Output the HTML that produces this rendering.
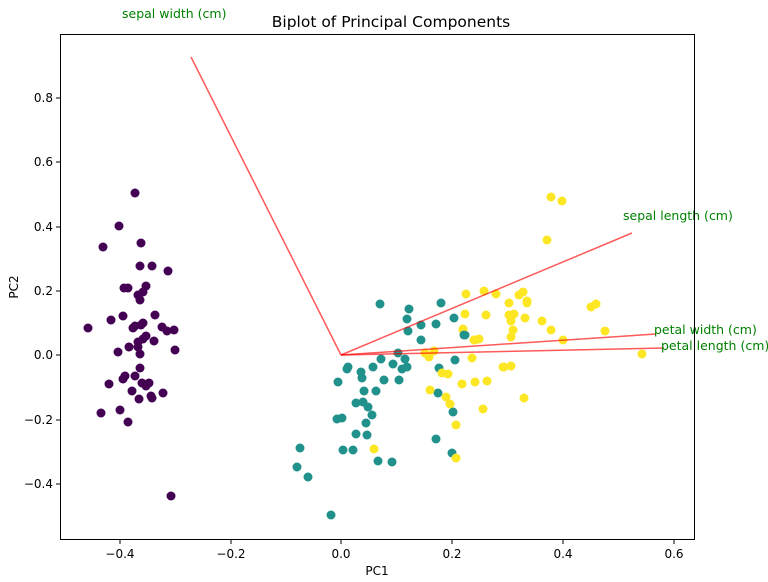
<!DOCTYPE html>
<html><head><style>body{margin:0;background:#fff}svg{display:block;font-family:"DejaVu Sans","Liberation Sans",sans-serif}</style></head><body>
<svg width="768" height="582" xmlns="http://www.w3.org/2000/svg">
<rect width="768" height="582" fill="#fff"/>
<text x="391" y="27" font-size="15.5" text-anchor="middle">Biplot of Principal Components</text>
<g id="pts">
<g fill="#440154">
<circle cx="135" cy="193" r="4.5"/><circle cx="119" cy="226" r="4.5"/><circle cx="171" cy="496" r="4.5"/>
<circle cx="103" cy="247" r="4.5"/><circle cx="141" cy="243" r="4.5"/><circle cx="140" cy="266" r="4.5"/><circle cx="152" cy="266" r="4.5"/><circle cx="168" cy="271" r="4.5"/><circle cx="124" cy="288" r="4.5"/><circle cx="128" cy="288" r="4.5"/><circle cx="146" cy="286" r="4.5"/><circle cx="143" cy="292" r="4.5"/><circle cx="138" cy="295" r="4.5"/><circle cx="140" cy="300" r="4.5"/><circle cx="88" cy="328" r="4.5"/><circle cx="111" cy="320" r="4.5"/><circle cx="123" cy="316" r="4.5"/><circle cx="155" cy="315" r="4.5"/><circle cx="133" cy="328" r="4.5"/><circle cx="135" cy="326" r="4.5"/><circle cx="141" cy="325" r="4.5"/><circle cx="143" cy="323" r="4.5"/><circle cx="162" cy="327" r="4.5"/><circle cx="167" cy="331" r="4.5"/><circle cx="174" cy="330" r="4.5"/><circle cx="146" cy="336" r="4.5"/><circle cx="143" cy="339" r="4.5"/><circle cx="138" cy="342" r="4.5"/><circle cx="138" cy="347" r="4.5"/><circle cx="154" cy="341" r="4.5"/><circle cx="129" cy="347" r="4.5"/><circle cx="118" cy="352" r="4.5"/><circle cx="140" cy="354" r="4.5"/><circle cx="175" cy="350" r="4.5"/><circle cx="140" cy="368" r="4.5"/><circle cx="125" cy="376" r="4.5"/><circle cx="123" cy="379" r="4.5"/><circle cx="135" cy="376" r="4.5"/><circle cx="109" cy="384" r="4.5"/><circle cx="142" cy="383" r="4.5"/><circle cx="146" cy="386" r="4.5"/><circle cx="149" cy="383" r="4.5"/><circle cx="132" cy="391" r="4.5"/><circle cx="139" cy="399" r="4.5"/><circle cx="151" cy="396" r="4.5"/><circle cx="152" cy="398" r="4.5"/><circle cx="163" cy="393" r="4.5"/><circle cx="120" cy="410" r="4.5"/><circle cx="101" cy="413" r="4.5"/><circle cx="128" cy="422" r="4.5"/>
</g>
<g fill="#21918c">
<circle cx="380" cy="304" r="4.5"/><circle cx="409" cy="309" r="4.5"/><circle cx="441" cy="303" r="4.5"/><circle cx="407" cy="319" r="4.5"/><circle cx="421" cy="325" r="4.5"/><circle cx="436" cy="324" r="4.5"/><circle cx="454" cy="318" r="4.5"/><circle cx="408" cy="331" r="4.5"/><circle cx="421" cy="340" r="4.5"/><circle cx="465" cy="335" r="4.5"/><circle cx="398" cy="353" r="4.5"/><circle cx="381" cy="359" r="4.5"/><circle cx="405" cy="359" r="4.5"/><circle cx="393" cy="364" r="4.5"/><circle cx="407" cy="367" r="4.5"/><circle cx="402" cy="369" r="4.5"/><circle cx="348" cy="367" r="4.5"/><circle cx="347" cy="369" r="4.5"/><circle cx="361" cy="372" r="4.5"/><circle cx="373" cy="367" r="4.5"/><circle cx="362" cy="378" r="4.5"/><circle cx="338" cy="382" r="4.5"/><circle cx="384" cy="380" r="4.5"/><circle cx="399" cy="380" r="4.5"/><circle cx="439" cy="368" r="4.5"/><circle cx="455" cy="360" r="4.5"/><circle cx="364" cy="391" r="4.5"/><circle cx="376" cy="391" r="4.5"/><circle cx="356" cy="403" r="4.5"/><circle cx="363" cy="402" r="4.5"/><circle cx="368" cy="407" r="4.5"/><circle cx="438" cy="393" r="4.5"/><circle cx="372" cy="415" r="4.5"/><circle cx="337" cy="419" r="4.5"/><circle cx="342" cy="418" r="4.5"/><circle cx="453" cy="412" r="4.5"/><circle cx="366" cy="423" r="4.5"/><circle cx="356" cy="434" r="4.5"/><circle cx="367" cy="435" r="4.5"/><circle cx="436" cy="439" r="4.5"/><circle cx="300" cy="448" r="4.5"/><circle cx="343" cy="450" r="4.5"/><circle cx="353" cy="450" r="4.5"/><circle cx="452" cy="453" r="4.5"/><circle cx="378" cy="461" r="4.5"/><circle cx="392" cy="462" r="4.5"/><circle cx="297" cy="467" r="4.5"/><circle cx="308" cy="477" r="4.5"/><circle cx="331" cy="515" r="4.5"/>
</g>
<g fill="#fde725">
<circle cx="425" cy="353" r="4.5"/><circle cx="429" cy="357" r="4.5"/><circle cx="434" cy="351" r="4.5"/><circle cx="442" cy="373" r="4.5"/><circle cx="448" cy="374" r="4.5"/><circle cx="472" cy="358" r="4.5"/><circle cx="462" cy="384" r="4.5"/><circle cx="475" cy="382" r="4.5"/><circle cx="487" cy="381" r="4.5"/><circle cx="430" cy="390" r="4.5"/><circle cx="446" cy="397" r="4.5"/><circle cx="450" cy="404" r="4.5"/><circle cx="456" cy="425" r="4.5"/><circle cx="483" cy="409" r="4.5"/><circle cx="524" cy="398" r="4.5"/><circle cx="374" cy="449" r="4.5"/><circle cx="456" cy="458" r="4.5"/><circle cx="503" cy="367" r="4.5"/><circle cx="511" cy="366" r="4.5"/><circle cx="463" cy="329" r="4.5"/><circle cx="475" cy="340" r="4.5"/><circle cx="479" cy="339" r="4.5"/>
<circle cx="551" cy="197" r="4.5"/><circle cx="562" cy="201" r="4.5"/><circle cx="547" cy="240" r="4.5"/><circle cx="466" cy="294" r="4.5"/><circle cx="484" cy="291" r="4.5"/><circle cx="496" cy="294" r="4.5"/><circle cx="519" cy="295" r="4.5"/><circle cx="523" cy="292" r="4.5"/><circle cx="527" cy="301" r="4.5"/><circle cx="527" cy="303" r="4.5"/><circle cx="509" cy="303" r="4.5"/><circle cx="591" cy="307" r="4.5"/><circle cx="596" cy="304" r="4.5"/><circle cx="465" cy="314" r="4.5"/><circle cx="486" cy="315" r="4.5"/><circle cx="509" cy="315" r="4.5"/><circle cx="514" cy="314" r="4.5"/><circle cx="511" cy="321" r="4.5"/><circle cx="525" cy="318" r="4.5"/><circle cx="542" cy="321" r="4.5"/><circle cx="551" cy="330" r="4.5"/><circle cx="605" cy="331" r="4.5"/><circle cx="463" cy="330" r="4.5"/><circle cx="513" cy="330" r="4.5"/><circle cx="511" cy="337" r="4.5"/><circle cx="474" cy="340" r="4.5"/><circle cx="563" cy="340" r="4.5"/><circle cx="642" cy="354" r="4.5"/><circle cx="504" cy="367" r="4.5"/>
</g>
<circle cx="464" cy="335" r="4.5" fill="#21918c"/>
</g>
<g stroke="#ff0000" stroke-opacity="0.65" stroke-width="1.5" fill="none">
<line x1="341" y1="355" x2="191" y2="57"/>
<line x1="341" y1="355" x2="632" y2="233"/>
<line x1="341" y1="355" x2="656" y2="334"/>
<line x1="341" y1="355" x2="664" y2="348"/>
</g>
<g fill="#008000" font-size="12.5">
<text x="122" y="18">sepal width (cm)</text>
<text x="623" y="220">sepal length (cm)</text>
<text x="654" y="334">petal width (cm)</text>
<text x="661" y="350">petal length (cm)</text>
</g>
<rect x="60.5" y="34.5" width="634" height="505" fill="none" stroke="#000" stroke-width="1"/>
<g stroke="#000" stroke-width="1">
<line x1="120" y1="540" x2="120" y2="544"/><line x1="231" y1="540" x2="231" y2="544"/><line x1="341" y1="540" x2="341" y2="544"/><line x1="452" y1="540" x2="452" y2="544"/><line x1="563" y1="540" x2="563" y2="544"/><line x1="674" y1="540" x2="674" y2="544"/>
<line x1="56" y1="98" x2="60" y2="98"/><line x1="56" y1="162" x2="60" y2="162"/><line x1="56" y1="227" x2="60" y2="227"/><line x1="56" y1="291" x2="60" y2="291"/><line x1="56" y1="355" x2="60" y2="355"/><line x1="56" y1="420" x2="60" y2="420"/><line x1="56" y1="484" x2="60" y2="484"/>
</g>
<g font-size="12" text-anchor="middle">
<text x="120" y="558">−0.4</text><text x="231" y="558">−0.2</text><text x="341" y="558">0.0</text><text x="452" y="558">0.2</text><text x="563" y="558">0.4</text><text x="674" y="558">0.6</text>
<text x="377" y="575">PC1</text>
</g>
<g font-size="12" text-anchor="end">
<text x="53" y="102">0.8</text><text x="53" y="166">0.6</text><text x="53" y="231">0.4</text><text x="53" y="295">0.2</text><text x="53" y="359">0.0</text><text x="53" y="424">−0.2</text><text x="53" y="488">−0.4</text>
</g>
<text x="18" y="287" font-size="12" text-anchor="middle" transform="rotate(-90 18 287)">PC2</text>
</svg>
</body></html>
